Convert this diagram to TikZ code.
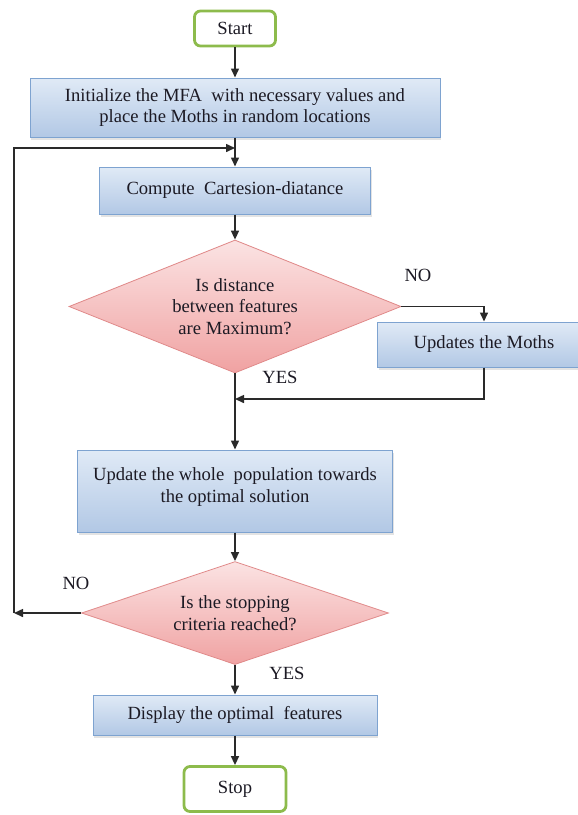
\documentclass[tikz,border=0pt]{standalone}
\usepackage{fontspec}
\setmainfont{Liberation Serif}
\usepackage{tikz}
\usetikzlibrary{positioning,shapes.geometric,arrows.meta,shadows,calc}
\definecolor{ink}     {HTML}{1C1A24}
\definecolor{wire}    {HTML}{2A2A2A}
\definecolor{steel}   {HTML}{7EA3D0}
\definecolor{skytop}  {HTML}{E0EAF6}
\definecolor{skybot}  {HTML}{B2C8E5}
\definecolor{rose}    {HTML}{E08A8A}
\definecolor{rosetop} {HTML}{FBE3E3}
\definecolor{rosebot} {HTML}{F0A2A2}
\definecolor{leaf}    {HTML}{8DBB4C}
\tikzset{
  every node/.style={font=\fontsize{18.6}{21.5}\selectfont, text=ink},
  % --- nodes
  procbox/.style = {rectangle, draw=steel, line width=1pt, top color=skytop, bottom color=skybot,
                    align=center, inner sep=2pt,
                    drop shadow={opacity=0.22, shadow xshift=1pt, shadow yshift=-2.5pt}},
  decide/.style  = {diamond, aspect=2.5, draw=rose, line width=0.8pt, top color=rosetop,
                    bottom color=rosebot, align=center, inner sep=0pt},
  term/.style    = {rectangle, rounded corners=6pt, draw=leaf, line width=2.8pt, fill=white,
                    align=center},
  lbl/.style     = {inner sep=0pt},
  % --- edges
  e/.style       = {-{Triangle[length=9pt,width=8pt]}, line width=1.5pt, draw=wire},
}

\begin{document}
\begin{tikzpicture}[x=1pt,y=-1pt]
  \useasboundingbox (0,0) rectangle (578,815);
  \node[term, minimum width=81pt, minimum height=35pt] (start) at (235,28.5) {Start};
  \node[procbox, minimum width=410pt, minimum height=59pt] (init) at (235,107.5) {Initialize the MFA\ \ with necessary values and\\place the Moths in random locations};
  \node[procbox, minimum width=271pt, minimum height=47pt] (cart) at (235,190.5) {Compute\ \ Cartesion-diatance};
  \node[decide, minimum width=332pt, minimum height=133pt] (dist) at (235,306.5) {Is distance\\between features\\are Maximum?};
  \node[procbox, minimum width=213pt, minimum height=45pt] (moths) at (484,344.5) {Updates the Moths};
  \node[procbox, minimum width=315pt, minimum height=82pt] (pop) at (235,491) {Update the whole\ \ population towards\\the optimal solution\\[-9.5pt]};
  \node[decide, minimum width=307pt, minimum height=103pt] (halt) at (235,613) {Is the stopping\\criteria reached?};
  \node[procbox, minimum width=284pt, minimum height=40pt] (show) at (235,715) {Display the optimal\ \ features};
  \node[term, minimum width=102pt, minimum height=45pt] (stop) at (235,789) {Stop};

  \node[lbl] (no1)  at (418,275) {NO};
  \node[lbl] (yes1) at (280,377) {YES};
  \node[lbl] (no2)  at (76,583)  {NO};
  \node[lbl] (yes2) at (287,673) {YES};

  \coordinate (looptop) at (14,148);
  \coordinate (loopbot) at (14,613);
  \coordinate (merge)   at (235,399);

  \draw[e] (start) -- (init); \draw[e] (init) -- (cart); \draw[e] (cart) -- (dist);
  \draw[e] (dist.east) -| (moths.north);
  \draw[e] (moths.south) |- (merge);
  \draw[e] (dist.south) -- (pop.north);
  \draw[e] (pop) -- (halt);
  \draw[e] (halt.west) -- (loopbot);
  \draw[e] (loopbot) -- (looptop) -- (cart.north |- looptop);
  \draw[e] (halt) -- (show); \draw[e] (show) -- (stop);
\end{tikzpicture}
\end{document}
